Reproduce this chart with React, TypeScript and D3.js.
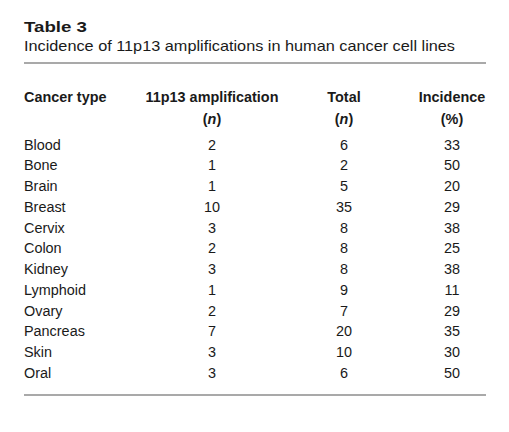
import React from "react";
import * as d3 from "d3";

const title = "Table 3";
const subtitle = "Incidence of 11p13 amplifications in human cancer cell lines";
const headers = ["Cancer type", "11p13 amplification", "Total", "Incidence"];
const subHeaders = ["", "(n)", "(n)", "(%)"];
const cancerTypes = ["Blood", "Bone", "Brain", "Breast", "Cervix", "Colon", "Kidney", "Lymphoid", "Ovary", "Pancreas", "Skin", "Oral"];
const amplification = [2, 1, 1, 10, 3, 2, 3, 1, 2, 7, 3, 3];
const totals = [6, 2, 5, 35, 8, 8, 8, 9, 7, 20, 10, 6];
const incidence = [33, 50, 20, 29, 38, 25, 38, 11, 29, 35, 30, 50];

const W = 509;
const H = 432;
const FONT = "'Liberation Sans', Arial, Helvetica, sans-serif";
const TEXT = "#1a1a1a";
const RULE = "#a9a9a9";
const FS = 15.5;
const SX = 0.93;

function T({ x, y, anchor = "start", bold = false, size = FS, sx = SX, children }: any) {
  return (
    <text
      transform={`translate(${x},${y}) scale(${sx},1)`}
      fontSize={size}
      fontWeight={bold ? "bold" : "normal"}
      fill={TEXT}
      textAnchor={anchor}
    >
      {children}
    </text>
  );
}

export default function App() {
  const y = d3.scalePoint<string>().domain(cancerTypes).range([149.5, 377.8]);
  const colX = [24, 212, 344, 452];
  const left = 24;
  const right = 486;

  const renderSub = (s: string) => {
    if (s === "(n)") {
      return (
        <>
          (<tspan fontStyle="italic">n</tspan>)
        </>
      );
    }
    return s;
  };

  return (
    <svg
      width={W}
      height={H}
      style={{ position: "absolute", left: 0, top: 0, background: "#fff" }}
      fontFamily={FONT}
    >
      <rect x={0} y={0} width={W} height={H} fill="#fff" />
      <text x={left} y={31.5} fontSize={15.5} fontWeight="bold" fill={TEXT} textLength={63} lengthAdjust="spacingAndGlyphs">
        {title}
      </text>
      <text x={left} y={50.5} fontSize={15} fill={TEXT} textLength={431} lengthAdjust="spacingAndGlyphs">
        {subtitle}
      </text>
      <rect x={left} y={62} width={right - left} height={2} fill={RULE} />

      {headers.map((h, i) => (
        <T key={h} x={colX[i]} y={101.5} bold anchor={i === 0 ? "start" : "middle"}>
          {h}
        </T>
      ))}
      {subHeaders.map((h, i) =>
        h ? (
          <T key={"s" + i} x={colX[i]} y={123.5} bold anchor="middle">
            {renderSub(h)}
          </T>
        ) : null
      )}

      {cancerTypes.map((c, i) => (
        <g key={c}>
          <T x={colX[0]} y={y(c)}>{c}</T>
          <T x={colX[1]} y={y(c)} anchor="middle">{amplification[i]}</T>
          <T x={colX[2]} y={y(c)} anchor="middle">{totals[i]}</T>
          <T x={colX[3]} y={y(c)} anchor="middle">{incidence[i]}</T>
        </g>
      ))}

      <rect x={left} y={394} width={right - left} height={2} fill={RULE} />
    </svg>
  );
}
